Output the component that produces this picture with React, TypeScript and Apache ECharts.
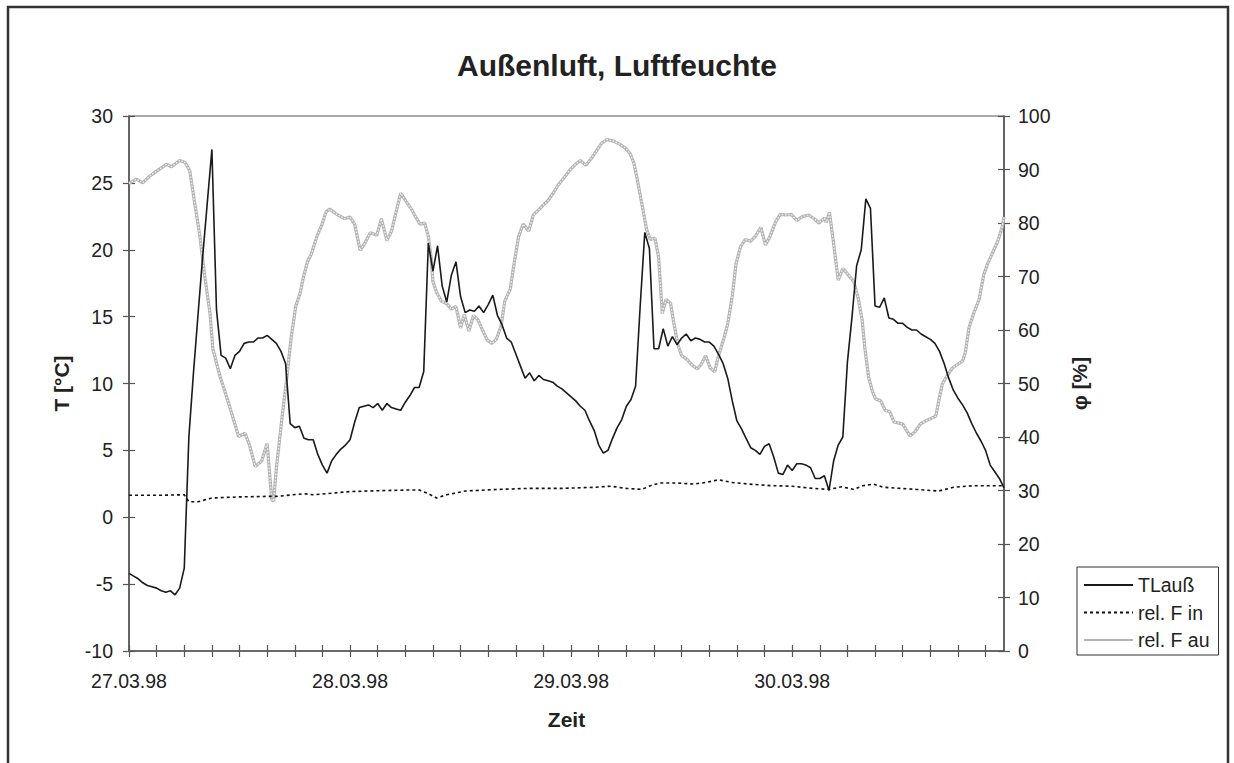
import React, { useEffect, useRef } from "react";
import * as echarts from "echarts";

// x axis: hours since 27.03.98 00:00
const xLabelHours = [0, 24, 48, 72];
const xLabels = ["27.03.98", "28.03.98", "29.03.98", "30.03.98"];
const xTickHours = [0, 3, 6, 9, 12, 15, 18, 21, 24, 27, 30, 33, 36, 39, 42, 45, 48, 51, 54, 57, 60, 63, 66, 69, 72, 75, 78, 81, 84, 87, 90, 93];

// TLauß [°C], half-hourly
const tHours = [
  0, 0.5, 1, 1.5, 2, 2.5, 3, 3.5, 4, 4.5, 5, 5.5, 6, 6.5, 7, 7.5, 8, 8.5, 9, 9.5,
  10, 10.5, 11, 11.5, 12, 12.5, 13, 13.5, 14, 14.5, 15, 15.5, 16, 16.5, 17, 17.5, 18, 18.5, 19, 19.5,
  20, 20.5, 21, 21.5, 22, 22.5, 23, 23.5, 24, 24.5, 25, 25.5, 26, 26.5, 27, 27.5, 28, 28.5, 29, 29.5,
  30, 30.5, 31, 31.5, 32, 32.5, 33, 33.5, 34, 34.5, 35, 35.5, 36, 36.5, 37, 37.5, 38, 38.5, 39, 39.5,
  40, 40.5, 41, 41.5, 42, 42.5, 43, 43.5, 44, 44.5, 45, 45.5, 46, 46.5, 47, 47.5, 48, 48.5, 49, 49.5,
  50, 50.5, 51, 51.5, 52, 52.5, 53, 53.5, 54, 54.5, 55, 55.5, 56, 56.5, 57, 57.5, 58, 58.5, 59, 59.5,
  60, 60.5, 61, 61.5, 62, 62.5, 63, 63.5, 64, 64.5, 65, 65.5, 66, 66.5, 67, 67.5, 68, 68.5, 69, 69.5,
  70, 70.5, 71, 71.5, 72, 72.5, 73, 73.5, 74, 74.5, 75, 75.5, 76, 76.5, 77, 77.5, 78, 78.5, 79, 79.5,
  80, 80.5, 81, 81.5, 82, 82.5, 83, 83.5, 84, 84.5, 85, 85.5, 86, 86.5, 87, 87.5, 88, 88.5, 89, 89.5,
  90, 90.5, 91, 91.5, 92, 92.5, 93, 93.5, 94, 94.5, 95,
];
const tValues = [
  -4.2, -4.4, -4.6, -4.9, -5.1, -5.2, -5.3, -5.5, -5.6, -5.5, -5.8, -5.3, -3.8, 6.0, 10.8, 15.2, 19.5, 23.5, 27.5, 15.5,
  12.1, 11.9, 11.1, 12.1, 12.4, 13.0, 13.1, 13.1, 13.4, 13.4, 13.6, 13.3, 13.0, 12.4, 11.5, 7.0, 6.7, 6.8, 5.9, 5.8,
  5.8, 4.7, 3.9, 3.3, 4.2, 4.7, 5.1, 5.4, 5.8, 7.1, 8.2, 8.3, 8.4, 8.2, 8.5, 8.0, 8.5, 8.2, 8.1, 8.0,
  8.6, 9.1, 9.7, 9.7, 10.9, 20.5, 18.4, 20.3, 17.3, 16.1, 18.1, 19.1, 16.5, 15.3, 15.5, 15.4, 15.8, 15.3, 15.9, 16.6,
  15.1, 14.4, 13.4, 13.1, 12.2, 11.3, 10.4, 10.8, 10.2, 10.6, 10.3, 10.2, 10.1, 9.8, 9.6, 9.3, 9.0, 8.7, 8.3, 8.0,
  7.2, 6.5, 5.4, 4.8, 5.0, 5.9, 6.7, 7.3, 8.3, 8.8, 9.8, 15.8, 21.3, 20.1, 12.6, 12.6, 14.1, 12.8, 13.5, 12.9,
  13.4, 13.7, 13.2, 13.4, 13.3, 13.1, 13.1, 12.8, 12.2, 11.5, 10.4, 8.7, 7.2, 6.6, 5.9, 5.2, 5.0, 4.7, 5.3, 5.5,
  4.5, 3.3, 3.2, 3.9, 3.5, 4.0, 4.0, 3.9, 3.7, 2.9, 2.9, 3.1, 2.0, 4.2, 5.4, 6.0, 11.6, 15.0, 18.8, 20.0,
  23.8, 23.1, 15.8, 15.7, 16.4, 14.9, 14.8, 14.5, 14.5, 14.2, 14.0, 14.0, 13.7, 13.5, 13.3, 13.0, 12.4, 11.5, 10.4, 9.5,
  8.9, 8.4, 7.8, 7.0, 6.3, 5.7, 5.0, 3.9, 3.4, 2.9, 2.2,
];

// rel. F in [%]
const finHours = [0, 3, 6, 6.5, 7.5, 9, 12, 15, 16, 19, 20, 24, 28, 30.5, 31.5, 32.5, 33.4, 34.5, 36.5, 40, 43.5, 47, 50.5, 52.3, 54, 55.7, 56.6, 57.7, 59.5, 61.3, 62.6, 64, 65.5, 67.3, 69.8, 72, 74.2, 76, 77.4, 78.7, 79.7, 80.8, 81.9, 83.7, 85.5, 87.9, 89.5, 91.7, 93.5, 95];
const finValues = [29.1, 29.1, 29.2, 27.9, 27.9, 28.6, 28.8, 28.9, 28.9, 29.4, 29.2, 29.8, 30.0, 30.1, 30.1, 29.4, 28.6, 29.2, 29.9, 30.2, 30.4, 30.4, 30.6, 30.8, 30.4, 30.2, 30.9, 31.4, 31.4, 31.2, 31.5, 32.0, 31.5, 31.2, 30.9, 30.8, 30.4, 30.2, 30.7, 30.2, 30.9, 31.2, 30.6, 30.4, 30.2, 29.9, 30.6, 30.9, 30.9, 30.9];

// rel. F au [%]
const fauHours = [
  0, 0.8, 1.5, 2.2, 3, 4.1, 4.6, 5.5, 6.1, 6.6, 7.1, 7.7, 8.2, 8.8, 9.1, 9.9, 10.4, 11.1, 11.9, 12.6,
  13.1, 13.7, 14.4, 15, 15.5, 15.7, 16, 16.6, 17.1, 17.6, 18.1, 18.6, 18.9, 19.4, 19.8, 20.4, 20.9, 21.4, 21.8, 22.4,
  22.9, 23.4, 24, 24.5, 25.1, 25.6, 26.2, 26.9, 27.4, 28, 28.5, 29.1, 29.5, 30.1, 30.7, 31, 31.6, 32.1, 32.5, 32.8,
  33, 33.4, 33.9, 34.5, 35, 35.5, 36, 36.4, 36.9, 37.4, 37.9, 38.4, 38.9, 39.4, 39.9, 40.4, 40.8, 41.4, 41.8, 42.3,
  42.8, 43.4, 43.9, 44.5, 45, 45.5, 46.1, 46.6, 47.3, 47.9, 48.5, 49, 49.6, 50.3, 50.8, 51.3, 51.9, 52.6, 53.3, 53.9,
  54.4, 54.8, 55.2, 55.7, 56.2, 56.6, 57.1, 57.5, 57.9, 58.3, 58.8, 59.1, 59.6, 60, 60.6, 61.1, 61.7, 62.1, 62.6, 63.1,
  63.6, 64, 64.6, 65, 65.5, 65.9, 66.4, 66.9, 67.5, 68, 68.6, 69.1, 69.6, 70.2, 70.7, 71.3, 71.9, 72.5, 73.1, 73.8,
  74.4, 74.9, 75.5, 75.7, 76.05, 76.5, 77, 77.5, 78.1, 78.7, 79.2, 79.6, 79.9, 80.3, 80.7, 81.05, 81.6, 82.1, 82.6, 83.05,
  83.6, 84, 84.4, 84.8, 85.4, 85.9, 86.5, 87, 87.6, 87.9, 88.3, 88.8, 89.4, 89.9, 90.5, 90.8, 91.2, 91.7, 92.3, 92.8,
  93.2, 93.7, 94.3, 94.8, 95,
];
const fauValues = [
  87.4, 88.2, 87.5, 88.7, 89.7, 91.0, 90.5, 91.7, 91.3, 89.7, 84.1, 77.5, 70.3, 63.1, 56.5, 51.2, 48.6, 44.7, 40.1, 40.7,
  38.4, 34.5, 35.5, 38.8, 28.3, 28.0, 34.2, 43.4, 50.6, 58.5, 64.4, 67.0, 69.6, 72.9, 74.2, 77.5, 79.5, 82.1, 82.6, 81.8,
  81.3, 80.8, 81.1, 79.8, 74.9, 76.2, 78.2, 77.7, 80.8, 76.7, 78.5, 82.8, 85.6, 84.0, 82.5, 81.5, 79.8, 80.0, 77.5, 73.6,
  69.0, 67.0, 65.4, 64.9, 63.9, 64.4, 60.4, 62.9, 59.8, 62.7, 61.9, 59.9, 58.1, 57.5, 58.3, 60.8, 65.4, 67.7, 72.3, 77.5,
  79.8, 78.5, 81.5, 82.5, 83.4, 84.2, 85.7, 87.1, 88.6, 90.0, 91.0, 91.7, 90.8, 92.3, 93.6, 94.9, 95.6, 95.3, 94.7, 94.0,
  93.0, 91.3, 88.0, 83.4, 78.8, 76.9, 77.2, 73.6, 63.1, 65.7, 65.0, 61.8, 57.2, 55.2, 54.5, 53.5, 52.7, 53.5, 55.2, 52.9,
  52.2, 55.2, 58.5, 61.1, 66.4, 72.3, 75.6, 76.9, 76.6, 77.5, 79.2, 75.9, 77.5, 80.2, 81.6, 81.5, 81.6, 80.5, 81.2, 81.5,
  80.8, 80.0, 80.9, 80.1, 82.0, 76.2, 69.3, 71.5, 70.3, 69.0, 65.7, 61.8, 56.5, 51.2, 48.6, 47.1, 46.8, 45.0, 44.7, 42.8,
  42.6, 42.4, 41.3, 40.2, 41.1, 42.4, 43.0, 43.4, 43.9, 46.6, 49.9, 51.4, 52.9, 53.5, 54.2, 55.8, 60.4, 63.1, 65.7, 70.3,
  72.3, 74.2, 76.5, 79.2, 81.1,
];

const FONT = "'Liberation Sans', Arial, sans-serif";
const AX = "#555555";
const TXT = "#222222";

const pairs = (xs: number[], ys: number[]) => xs.map((x, i) => [x, ys[i]]);

export default function App() {
  const ref = useRef<HTMLDivElement>(null);

  useEffect(() => {
    if (!ref.current) return;
    const chart = echarts.init(ref.current, null, { renderer: "svg" });
    const tickLine = { color: AX, width: 1.2 };
    const baseX = {
      type: "value" as const,
      min: 0,
      max: 95,
      position: "bottom" as const,
      splitLine: { show: false },
    };
    const option: any = {
      animation: false,
      backgroundColor: "#ffffff",
      textStyle: { fontFamily: FONT },
      title: {
        text: "Außenluft, Luftfeuchte",
        left: "center",
        top: 45,
        textStyle: { fontFamily: FONT, fontSize: 30, fontWeight: "bold", color: TXT },
      },
      grid: {
        left: 129,
        right: 230,
        top: 116,
        bottom: 112,
        show: true,
        borderColor: AX,
        borderWidth: 1.2,
        backgroundColor: "transparent",
      },
      legend: {
        data: ["TLauß", "rel. F in", "rel. F au"],
        orient: "vertical",
        left: 1077,
        top: 567,
        itemWidth: 49,
        itemHeight: 10,
        itemGap: 7.5,
        padding: [8, 9, 5, 6],
        borderColor: "#333333",
        borderWidth: 1,
        itemStyle: { color: "rgba(0,0,0,0)", borderColor: "rgba(0,0,0,0)", borderWidth: 0, opacity: 0 },
        textStyle: { fontFamily: FONT, fontSize: 19.5, color: TXT, lineHeight: 20 },
      },
      graphic: [
        {
          type: "rect",
          shape: { x: 8, y: 7, width: 1220, height: 800 },
          style: { fill: "none", stroke: "#333333", lineWidth: 2.5 },
          silent: true,
          z: 100,
        },
      ],
      xAxis: [
        {
          ...baseX,
          name: "Zeit",
          nameLocation: "middle",
          nameGap: 58,
          nameTextStyle: { fontFamily: FONT, fontSize: 21, fontWeight: "bold", color: TXT },
          axisLine: { show: true, onZero: false, lineStyle: { color: AX, width: 1.5 } },
          axisTick: { show: true, length: 6, customValues: xTickHours, lineStyle: tickLine },
          axisLabel: {
            customValues: xLabelHours,
            formatter: (v: number) => {
              const i = xLabelHours.indexOf(v);
              return i >= 0 ? xLabels[i] : "";
            },
            fontFamily: FONT,
            fontSize: 19.5,
            color: TXT,
            margin: 20,
          },
        },
        {
          ...baseX,
          axisLine: { show: false, onZero: false },
          axisTick: { show: true, inside: true, length: 6, customValues: xTickHours, lineStyle: tickLine },
          axisLabel: { show: false },
        },
      ],
      yAxis: [
        {
          type: "value",
          position: "left",
          min: -10,
          max: 30,
          interval: 5,
          name: "T [°C]",
          nameLocation: "middle",
          nameGap: 57,
          nameRotate: 90,
          nameTextStyle: { fontFamily: FONT, fontSize: 21, fontWeight: "bold", color: TXT },
          axisLine: { show: true, onZero: false, lineStyle: { color: AX, width: 1.5 } },
          axisTick: { show: true, length: 6, lineStyle: tickLine },
          axisLabel: { fontFamily: FONT, fontSize: 19.5, color: TXT, margin: 16 },
          splitLine: { show: false },
        },
        {
          type: "value",
          position: "right",
          min: 0,
          max: 100,
          interval: 10,
          name: "φ [%]",
          nameLocation: "middle",
          nameGap: 65,
          nameRotate: 90,
          nameTextStyle: { fontFamily: FONT, fontSize: 21, fontWeight: "bold", color: TXT },
          axisLine: { show: true, onZero: false, lineStyle: { color: AX, width: 1.5 } },
          axisTick: { show: true, length: 6, lineStyle: tickLine },
          axisLabel: { fontFamily: FONT, fontSize: 19.5, color: TXT, margin: 14 },
          splitLine: { show: false },
        },
        {
          type: "value",
          position: "left",
          min: -10,
          max: 30,
          interval: 5,
          axisLine: { show: false, onZero: false },
          axisTick: { show: true, inside: true, length: 6, lineStyle: tickLine },
          axisLabel: { show: false },
          splitLine: { show: false },
        },
        {
          type: "value",
          position: "right",
          min: 0,
          max: 100,
          interval: 10,
          axisLine: { show: false, onZero: false },
          axisTick: { show: true, inside: true, length: 6, lineStyle: tickLine },
          axisLabel: { show: false },
          splitLine: { show: false },
        },
      ],
      series: [
        {
          name: "TLauß",
          type: "line",
          xAxisIndex: 0,
          yAxisIndex: 0,
          data: pairs(tHours, tValues),
          symbol: "none",
          color: "#1a1a1a",
          lineStyle: { color: "#1a1a1a", width: 1.6 },
          z: 4,
        },
        {
          name: "rel. F in",
          type: "line",
          xAxisIndex: 0,
          yAxisIndex: 1,
          data: pairs(finHours, finValues),
          symbol: "none",
          color: "#111111",
          lineStyle: { color: "#111111", width: 1.6, type: [3, 3] },
          z: 4,
        },
        {
          name: "rel. F au",
          type: "line",
          xAxisIndex: 0,
          yAxisIndex: 1,
          data: pairs(fauHours, fauValues),
          symbol: "none",
          color: "#b4b4b4",
          lineStyle: { color: "#b4b4b4", width: 3.2 },
          z: 2,
        },
        {
          name: "fau-texture",
          type: "line",
          xAxisIndex: 0,
          yAxisIndex: 1,
          data: pairs(fauHours, fauValues),
          symbol: "none",
          silent: true,
          color: "#f4f4f4",
          lineStyle: { color: "#f4f4f4", width: 1.2, type: [1.6, 1.6] },
          z: 3,
        },
      ],
    };
    chart.setOption(option);
    return () => chart.dispose();
  }, []);

  return (
    <div
      ref={ref}
      style={{ position: "absolute", left: 0, top: 0, width: 1234, height: 763, background: "#fff" }}
    />
  );
}
